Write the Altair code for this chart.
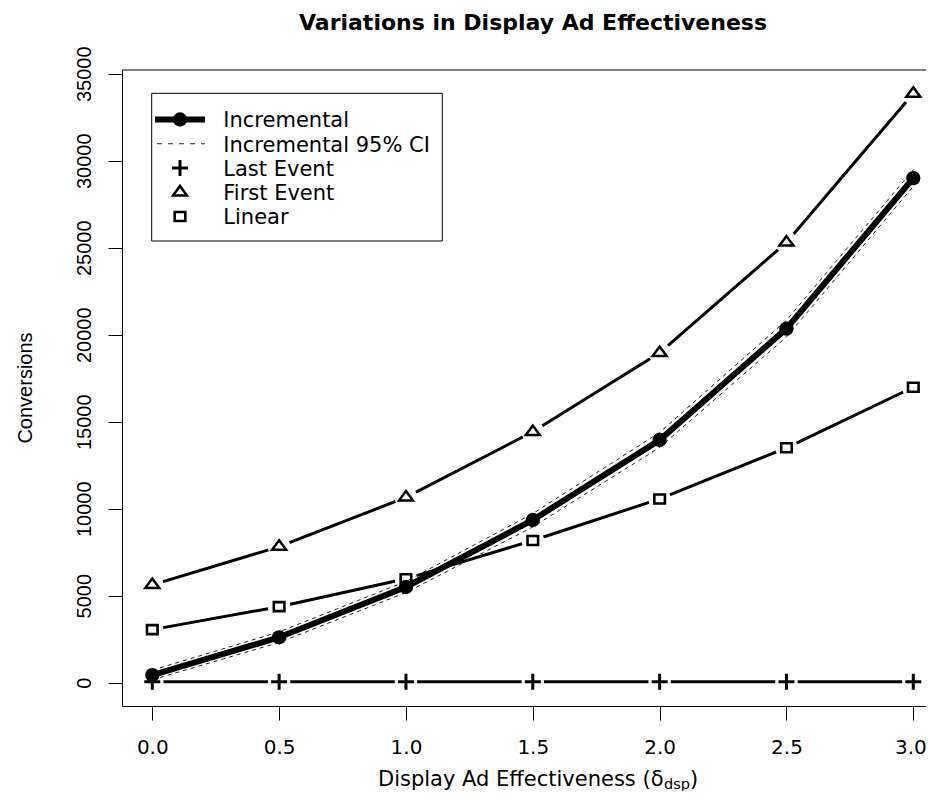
import altair as alt
import pandas as pd

# ---------------- data ----------------
x_vals = [0.0, 0.5, 1.0, 1.5, 2.0, 2.5, 3.0]
incremental = [440, 2610, 5500, 9350, 13950, 20350, 29000]
ci_upper = [720, 2920, 5820, 9720, 14380, 20830, 29480]
ci_lower = [170, 2310, 5180, 8950, 13520, 19870, 28520]
last_event = [60, 60, 60, 60, 60, 60, 60]
first_event = [5620, 7820, 10650, 14420, 18960, 25300, 33860]
linear = [3050, 4370, 5970, 8170, 10560, 13500, 16980]

x_ticks = [0.0, 0.5, 1.0, 1.5, 2.0, 2.5, 3.0]
y_ticks = [0, 5000, 10000, 15000, 20000, 25000, 30000, 35000]

legend_labels = ["Incremental", "Incremental 95% CI", "Last Event", "First Event", "Linear"]
title_text = "Variations in Display Ad Effectiveness"
x_title_main = "Display Ad Effectiveness (δ"
x_title_sub = "dsp"
x_title_close = ")"
y_title = "Conversions"

# ---------------- layout ----------------
W, H = 804, 636
PAD_L, PAD_T = 114, 62
TOTAL_W, TOTAL_H = 918, 783
X_DOMAIN = [-0.1194, 3.0501]
Y_DOMAIN = [-1339, 35212]

H_FONT = "DejaVu Sans"
V_FONT = "Liberation Sans"

df = pd.DataFrame({
    "x": x_vals,
    "incremental": incremental,
    "ci_upper": ci_upper,
    "ci_lower": ci_lower,
    "last_event": last_event,
    "first_event": first_event,
    "linear": linear,
})

xs = alt.Scale(domain=X_DOMAIN, nice=False, zero=False)
ys = alt.Scale(domain=Y_DOMAIN, nice=False, zero=False)

x_axis = alt.Axis(values=x_ticks, format=".1f", title=None, grid=False,
                  tickSize=14, tickColor="black", tickWidth=1,
                  domainColor="black", domainWidth=1,
                  labelFont=H_FONT, labelFontSize=20, labelColor="black",
                  labelBaseline="alphabetic", labelPadding=33,
                  labelFlush=15, labelFlushOffset=13,
                  labelOverlap=False)
y_axis = alt.Axis(values=y_ticks, format="d", title=None, grid=False,
                  tickSize=14, tickColor="black", tickWidth=1,
                  domainColor="black", domainWidth=1,
                  labelFont=V_FONT, labelFontSize=20, labelColor="black",
                  labelAngle=270, labelAlign="center", labelBaseline="alphabetic",
                  labelPadding=18, labelFlush=False, labelOverlap=False)

X = alt.X("x:Q", scale=xs, axis=x_axis)

def Y(field):
    return alt.Y(f"{field}:Q", scale=ys, axis=y_axis)

base = alt.Chart(df)

GAP_SIZE = 507
TRI = "M0,-0.9L1,0.45L-1,0.45Z"
SQR = "M-1,-0.85H1V0.85H-1Z"
PLUS = "M-1,0H1M0,-1V1"

layers = []

def type_b(field, shape, size, sw):
    line = base.mark_line(color="black", strokeWidth=3, strokeCap="butt").encode(x=X, y=Y(field))
    halo = base.mark_point(shape="circle", filled=True, color="white", opacity=1,
                           size=GAP_SIZE).encode(x=X, y=Y(field))
    mk = base.mark_point(shape=shape, size=size, stroke="black", strokeWidth=sw,
                         fill="white", fillOpacity=0 if shape == PLUS else 1,
                         opacity=1).encode(x=X, y=Y(field))
    return [line, halo, mk]

layers += type_b("last_event", PLUS, 256, 3)
layers += type_b("first_event", TRI, 196, 2.5)
layers += type_b("linear", SQR, 112, 2.6)

for f in ["ci_upper", "ci_lower"]:
    layers.append(base.mark_line(color="#222", strokeWidth=1, strokeDash=[4, 4]).encode(x=X, y=Y(f)))

layers.append(base.mark_line(color="black", strokeWidth=6).encode(x=X, y=Y("incremental")))
layers.append(base.mark_point(shape="circle", filled=True, color="black", opacity=1,
                              size=205).encode(x=X, y=Y("incremental")))

one = pd.DataFrame({"k": [0]})
deco = alt.Chart(one)

# top edge of the box
layers.append(deco.mark_rule(color="black", strokeWidth=1).encode(
    x=alt.value(0), x2=alt.value(W), y=alt.value(0)))

# ---------------- legend ----------------
LX0, LX1, LY0, LY1 = 29.7, 320.3, 23.3, 171
layers.append(deco.mark_rect(fill="white", stroke="black", strokeWidth=1).encode(
    x=alt.value(LX0), x2=alt.value(LX1), y=alt.value(LY0), y2=alt.value(LY1)))
row_y = [49.5 + 24.25 * i for i in range(5)]
SYM_X = 58
LINE_X0, LINE_X1 = 33, 83
TEXT_X = 101.3

layers.append(deco.mark_rule(color="black", strokeWidth=6).encode(
    x=alt.value(LINE_X0), x2=alt.value(LINE_X1), y=alt.value(row_y[0])))
layers.append(deco.mark_point(shape="circle", filled=True, color="black", opacity=1, size=205).encode(
    x=alt.value(SYM_X), y=alt.value(row_y[0])))
layers.append(deco.mark_rule(color="#222", strokeWidth=1, strokeDash=[5, 6]).encode(
    x=alt.value(LINE_X0 + 2), x2=alt.value(LINE_X1), y=alt.value(row_y[1])))
layers.append(deco.mark_point(shape=PLUS, size=256, stroke="black", strokeWidth=3, fillOpacity=0, opacity=1).encode(
    x=alt.value(SYM_X), y=alt.value(row_y[2])))
layers.append(deco.mark_point(shape=TRI, size=196, stroke="black", strokeWidth=2.5, fill="white", opacity=1).encode(
    x=alt.value(SYM_X), y=alt.value(row_y[3])))
layers.append(deco.mark_point(shape=SQR, size=112, stroke="black", strokeWidth=2.6, fill="white", opacity=1).encode(
    x=alt.value(SYM_X), y=alt.value(row_y[4])))
for lab, ry in zip(legend_labels, row_y):
    layers.append(deco.mark_text(text=lab, font=H_FONT, fontSize=21, color="black",
                                 align="left", baseline="alphabetic").encode(
        x=alt.value(TEXT_X), y=alt.value(ry + 7.8)))

# ---------------- titles ----------------
layers.append(deco.mark_text(text=title_text, font=H_FONT, fontSize=22, fontWeight="bold",
                             color="black", align="center", baseline="alphabetic").encode(
    x=alt.value(533 - 122), y=alt.value(29.5 - 70)))

XT_MAIN_END = 663.5 - 122
XT_BASE = 786 - 70
layers.append(deco.mark_text(text=x_title_main, font=H_FONT, fontSize=21, color="black",
                             align="right", baseline="alphabetic").encode(
    x=alt.value(XT_MAIN_END), y=alt.value(XT_BASE)))
layers.append(deco.mark_text(text=x_title_sub, font=H_FONT, fontSize=14.5, color="black",
                             align="left", baseline="alphabetic").encode(
    x=alt.value(XT_MAIN_END + 0.5), y=alt.value(XT_BASE + 2.5)))
layers.append(deco.mark_text(text=x_title_close, font=H_FONT, fontSize=21, color="black",
                             align="left", baseline="alphabetic").encode(
    x=alt.value(XT_MAIN_END + 26.5), y=alt.value(XT_BASE)))

layers.append(deco.mark_text(text=y_title, font=V_FONT, fontSize=20, color="black", angle=270,
                             align="center", baseline="alphabetic").encode(
    x=alt.value(31.7 - 122), y=alt.value(388 - 70)))

chart = alt.layer(*layers).properties(
    width=W, height=H,
    autosize=alt.AutoSizeParams(type="none"),
    padding={"left": PAD_L, "top": PAD_T, "right": TOTAL_W - PAD_L - W, "bottom": TOTAL_H - PAD_T - H},
    background="white",
).configure_view(stroke="transparent")

chart.save("out.html", embed_options={"renderer": "svg", "actions": False})
